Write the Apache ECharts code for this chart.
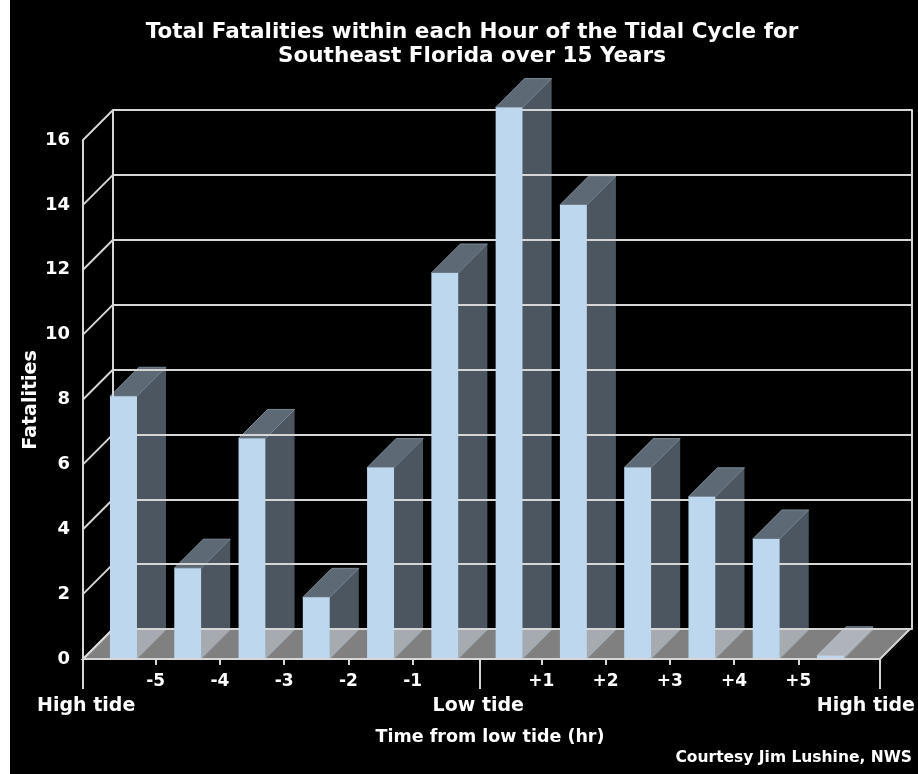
<!DOCTYPE html>
<html>
<head>
<meta charset="utf-8">
<script src="https://cdn.jsdelivr.net/npm/echarts@6/dist/echarts.min.js"></script>
<style>
html, body { margin: 0; padding: 0; background: #000; }
#chart { width: 918px; height: 774px; }
</style>
</head>
<body>
<div id="chart"></div>
<script>
// one bar per hour, from high tide (-6) through low tide (0) to high tide (+6)
var binCenters = [-5.5, -4.5, -3.5, -2.5, -1.5, -0.5, 0.5, 1.5, 2.5, 3.5, 4.5, 5.5];
var fatalities = [8.1, 2.8, 6.8, 1.9, 5.9, 11.9, 17.0, 14.0, 5.9, 5.0, 3.7, 0.1];

var hourTicks = [-5, -4, -3, -2, -1, 1, 2, 3, 4, 5];
var hourLabels = ['-5', '-4', '-3', '-2', '-1', '+1', '+2', '+3', '+4', '+5'];
var tideTicks = [-6.13, 0.05, 6.27];
var tideLabelAt = [-6.08, 0.02, 6.05];
var tideLabels = ['High tide', 'Low tide', 'High tide'];
var yTicks = [0, 2, 4, 6, 8, 10, 12, 14, 16];

var FONT = 'DejaVu Sans';
var X_MIN = -6.13, X_MAX = 6.27;
var BAR_DX = 29, BAR_DY = 29;   // depth of the bars
var WALL_DX = 30, WALL_DY = 30; // depth of the floor / back wall
var LINE = '#d6d6d6';

var chart = echarts.init(document.getElementById('chart'));

var barData = binCenters.map(function (x, i) { return [x, fatalities[i]]; });

function barBox(api) {
    var x = api.value(0), v = api.value(1);
    var p0 = api.coord([x, 0]);
    var p1 = api.coord([x, v]);
    var w = api.size([1, 0])[0] * 0.42;
    return { xl: p0[0] - w / 2, xr: p0[0] + w / 2, yb: p0[1], yt: p1[1], w: w };
}

// side and top of each bar (behind the wall lines and floor)
function renderBarShell(params, api) {
    var b = barBox(api);
    return {
        type: 'group',
        children: [
            {
                type: 'polygon',
                shape: { points: [[b.xr, b.yt], [b.xr + BAR_DX, b.yt - BAR_DY], [b.xr + BAR_DX, b.yb - BAR_DY], [b.xr, b.yb]] },
                style: { fill: '#4b5661' }
            },
            {
                type: 'polygon',
                shape: { points: [[b.xl, b.yt], [b.xl + BAR_DX, b.yt - BAR_DY], [b.xr + BAR_DX, b.yt - BAR_DY], [b.xr, b.yt]] },
                style: { fill: '#5d6975', stroke: '#7a8896', lineWidth: 1 }
            }
        ]
    };
}

function renderBarFront(params, api) {
    var b = barBox(api);
    return {
        type: 'rect',
        shape: { x: b.xl, y: b.yt, width: b.w, height: b.yb - b.yt },
        style: { fill: '#bdd7ee' }
    };
}

// diagonal lines from the front value axis back to the wall
function renderWallEdge(params, api) {
    var p = api.coord([api.value(0), api.value(1)]);
    return {
        type: 'line',
        shape: { x1: p[0], y1: p[1], x2: p[0] + WALL_DX, y2: p[1] - WALL_DY },
        style: { stroke: LINE, lineWidth: 2 }
    };
}

function renderFloor(params, api) {
    var a = api.coord([X_MIN, 0]);
    var b = api.coord([X_MAX, 0]);
    return {
        type: 'polygon',
        shape: { points: [[a[0], a[1]], [b[0], b[1]], [b[0] + WALL_DX, b[1] - WALL_DY], [a[0] + WALL_DX, a[1] - WALL_DY]] },
        style: { fill: 'rgba(255,255,255,0.5)', stroke: LINE, lineWidth: 2 }
    };
}

var option = {
    backgroundColor: '#000',
    animation: false,
    grid: [
        { left: 83, top: 140, width: 797, height: 519 },
        { left: 113, top: 110, width: 799, height: 519 }
    ],
    xAxis: [
        {
            type: 'value', gridIndex: 0, min: X_MIN, max: X_MAX, position: 'bottom', z: 8,
            splitLine: { show: false },
            axisLine: { show: true, onZero: false, lineStyle: { color: LINE, width: 2 } },
            axisTick: { show: true, customValues: hourTicks, length: 6, lineStyle: { color: LINE, width: 2 } },
            axisLabel: {
                customValues: hourTicks, margin: 14, color: '#fff',
                fontFamily: FONT, fontWeight: 'bold', fontSize: 17,
                formatter: function (v) { return hourLabels[hourTicks.indexOf(Math.round(v))]; }
            }
        },
        {
            type: 'value', gridIndex: 0, min: X_MIN, max: X_MAX, position: 'bottom', z: 8,
            splitLine: { show: false },
            axisLine: { show: false, onZero: false },
            axisTick: { show: true, customValues: tideTicks, length: 30, lineStyle: { color: LINE, width: 2 } },
            axisLabel: {
                customValues: tideLabelAt, margin: 38, color: '#fff',
                fontFamily: FONT, fontWeight: 'bold', fontSize: 19,
                showMinLabel: true, showMaxLabel: true,
                formatter: function (v) {
                    if (v < -3) return tideLabels[0];
                    if (v > 3) return tideLabels[2];
                    return tideLabels[1];
                }
            }
        },
        { type: 'value', gridIndex: 1, min: X_MIN, max: X_MAX, show: false }
    ],
    yAxis: [
        {
            type: 'value', gridIndex: 0, min: 0, max: 16, interval: 2, z: 8,
            splitLine: { show: false },
            axisLine: { show: true, onZero: false, lineStyle: { color: LINE, width: 2 } },
            axisTick: { show: false },
            axisLabel: { margin: 13, color: '#fff', fontFamily: FONT, fontWeight: 'bold', fontSize: 18 }
        },
        {
            type: 'value', gridIndex: 1, min: 0, max: 16, interval: 2, z: 3,
            splitLine: { show: true, lineStyle: { color: LINE, width: 2 } },
            axisLine: { show: true, onZero: false, lineStyle: { color: LINE, width: 2 } },
            axisTick: { show: false },
            axisLabel: { show: false }
        },
        {
            type: 'value', gridIndex: 1, min: 0, max: 16, interval: 2, position: 'right', z: 3,
            splitLine: { show: false },
            axisLine: { show: true, onZero: false, lineStyle: { color: LINE, width: 2 } },
            axisTick: { show: false },
            axisLabel: { show: false }
        }
    ],
    series: [
        {
            type: 'custom', name: 'barShell', xAxisIndex: 0, yAxisIndex: 0, z: 1,
            renderItem: renderBarShell, data: barData, clip: false
        },
        {
            type: 'custom', name: 'floor', xAxisIndex: 0, yAxisIndex: 0, z: 4,
            renderItem: renderFloor, data: [[X_MIN, 0]], clip: false
        },
        {
            type: 'custom', name: 'wallEdges', xAxisIndex: 0, yAxisIndex: 0, z: 5,
            renderItem: renderWallEdge, data: yTicks.map(function (t) { return [X_MIN, t]; }), clip: false
        },
        {
            type: 'custom', name: 'barFront', xAxisIndex: 0, yAxisIndex: 0, z: 6,
            renderItem: renderBarFront, data: barData, clip: false
        }
    ],
    graphic: [
        {
            type: 'text', x: 472, y: 20, z: 20,
            style: {
                text: 'Total Fatalities within each Hour of the Tidal Cycle for\nSoutheast Florida over 15 Years',
                fill: '#fff', font: 'bold 21.5px "DejaVu Sans"', lineHeight: 24,
                align: 'center', textAlign: 'center', verticalAlign: 'top', textVerticalAlign: 'top'
            }
        },
        {
            type: 'text', x: 31, y: 400, rotation: Math.PI / 2, z: 20,
            style: {
                text: 'Fatalities', fill: '#fff', font: 'bold 19px "DejaVu Sans"',
                align: 'center', textAlign: 'center', verticalAlign: 'middle', textVerticalAlign: 'middle'
            }
        },
        {
            type: 'text', x: 490, y: 737, z: 20,
            style: {
                text: 'Time from low tide (hr)', fill: '#fff', font: 'bold 17.5px "DejaVu Sans"',
                align: 'center', textAlign: 'center', verticalAlign: 'middle', textVerticalAlign: 'middle'
            }
        },
        {
            type: 'text', x: 912, y: 758, z: 20,
            style: {
                text: 'Courtesy Jim Lushine, NWS', fill: '#fff', font: 'bold 15.5px "DejaVu Sans"',
                align: 'right', textAlign: 'right', verticalAlign: 'middle', textVerticalAlign: 'middle'
            }
        },
        {
            type: 'rect', left: 0, top: 0, z: 30,
            shape: { width: 10, height: 774 }, style: { fill: '#fff' }
        }
    ]
};

chart.setOption(option);
</script>
</body>
</html>
